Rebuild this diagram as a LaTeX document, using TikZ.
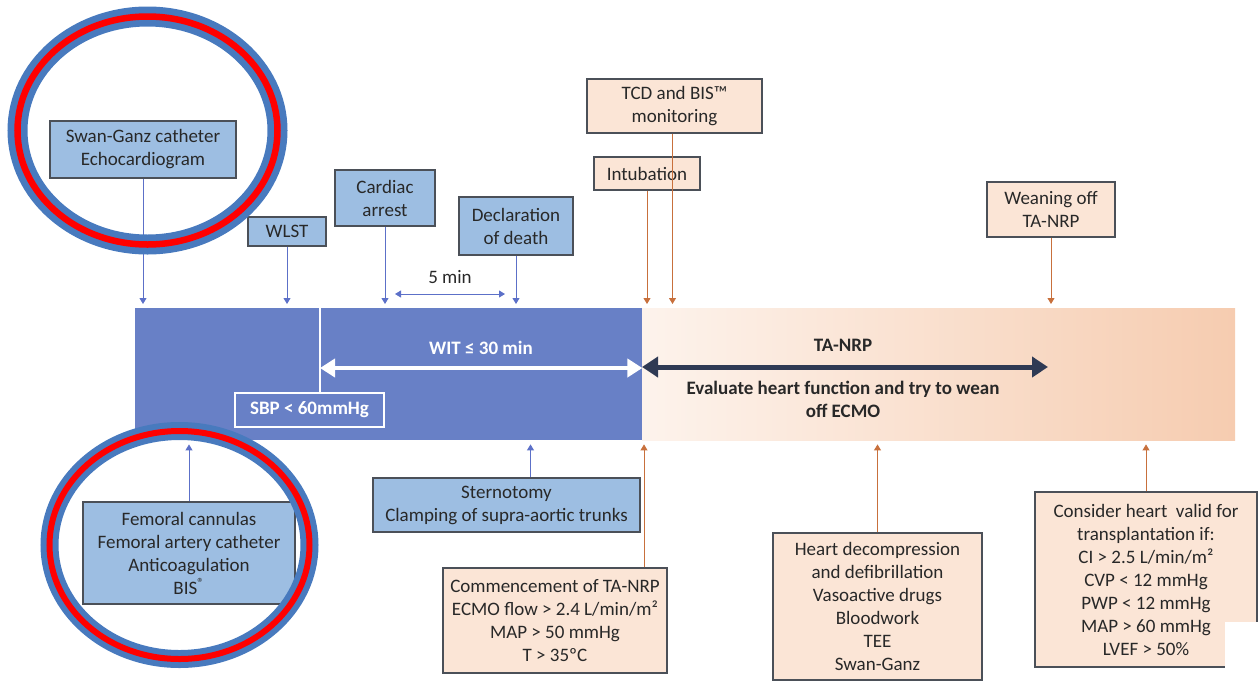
\documentclass[tikz,border=0pt]{standalone}
\usepackage{fontspec}
\setmainfont{Carlito}
\usepackage{tikz}
\usetikzlibrary{calc}
\usetikzlibrary{arrows.meta}

\definecolor{barblue}{RGB}{104,128,198}
\definecolor{boxblue}{RGB}{157,190,226}
\definecolor{boxorange}{RGB}{251,229,214}
\definecolor{boxline}{RGB}{75,80,88}
\definecolor{arrblue}{RGB}{92,112,200}
\definecolor{arrorange}{RGB}{200,112,60}
\definecolor{gradleft}{RGB}{253,243,236}
\definecolor{gradright}{RGB}{246,204,176}
\definecolor{navy}{RGB}{47,58,84}
\definecolor{ringblue}{RGB}{72,122,190}
\definecolor{txt}{RGB}{40,40,40}

\tikzset{
  bluebox/.style={draw=boxline,fill=boxblue,line width=1.2pt,align=center,inner sep=0pt,
    text=txt,font=\fontsize{19}{23}\selectfont},
  orgbox/.style={bluebox,fill=boxorange},
  bluearr/.style={arrblue,line width=0.9pt,-{Triangle[length=6pt,width=7pt]},shorten >=4pt},
  orgarr/.style={bluearr,arrorange},
  bartext/.style={font=\fontsize{19}{23}\selectfont\bfseries,align=center},
  ring/.style={line width=#1}
}

\begin{document}
\begin{tikzpicture}[x=1pt,y=-1pt]
      \useasboundingbox (0,0) rectangle (1260,683);

      % timeline bars
      \node[fill=barblue,minimum width=507pt,minimum height=132pt,inner sep=0pt,anchor=north west] (wbar) at (135,308) {};
      \node[left color=gradleft,right color=gradright,minimum width=593pt,minimum height=132pt,inner sep=0pt,anchor=north west] (nbar) at (642,308) {};

      % boxes above the bar
      \node[bluebox,minimum width=186pt,minimum height=57pt] (swan) at (143,149.5) {Swan-Ganz catheter\\Echocardiogram};
      \node[bluebox,minimum width=78pt,minimum height=29pt] (wlst) at (287,231.5) {WLST};
      \node[bluebox,minimum width=100pt,minimum height=56pt] (arrest) at (385,198) {Cardiac\\arrest};
      \node[bluebox,minimum width=114pt,minimum height=58pt] (death) at (516,226) {Declaration\\of death};
      \node[orgbox,minimum width=175pt,minimum height=54pt] (tcd) at (674.5,106) {TCD and BIS™\\monitoring};
      \node[orgbox,minimum width=106pt,minimum height=33pt] (intub) at (647,173.5) {Intubation};
      \node[orgbox,minimum width=128pt,minimum height=55pt] (wean) at (1051,209.5) {Weaning off\\TA-NRP};

      \draw[bluearr] (swan.south) -- (swan.south |- wbar.north);
      \draw[bluearr] (wlst.south) -- (wlst.south |- wbar.north);
      \draw[bluearr] (arrest.south) -- (arrest.south |- wbar.north);
      \draw[bluearr] (death.south) -- (death.south |- wbar.north);
      \draw[orgarr] ([xshift=-2pt]tcd.south) -- ([xshift=-2pt]tcd.south |- nbar.north);
      \draw[orgarr] (intub.south) -- (intub.south |- wbar.north);
      \draw[orgarr] (wean.south) -- (wean.south |- nbar.north);

      % 5 min
      \coordinate (fiveL) at (395,294);
      \coordinate (fiveR) at (505,294);
      \draw[arrblue,line width=0.9pt,{Triangle[length=6pt,width=7pt]}-{Triangle[length=6pt,width=7pt]}] (fiveL) -- (fiveR);
      \node[text=txt,font=\fontsize{19}{23}\selectfont] (five) at (450,277) {5 min};

      % inside the blue bar
      \node[draw=white,line width=1.2pt,minimum width=149pt,minimum height=34pt,inner sep=0pt,text=white,bartext] (sbp) at (309.5,410) {SBP < 60mmHg};
      \coordinate (witL) at (320,368);
      \draw[white,line width=2.5pt] (sbp.north -| witL) -- (wbar.north -| witL);
      \draw[white,line width=4.5pt,{Triangle[length=15pt,width=18pt]}-{Triangle[length=15pt,width=18pt]}] (witL) -- (witL -| wbar.east);
      \node[bartext,text=white] (wit) at (481,348) {WIT ≤ 30 min};

      % inside the TA-NRP bar
      \coordinate (nrpR) at (1048,367);
      \draw[navy,line width=5pt,{Triangle[length=16pt,width=20pt]}-{Triangle[length=16pt,width=20pt]}] (nrpR -| nbar.west) -- (nrpR);
      \node[bartext,text=txt] (nrp) at (843,345) {TA-NRP};
      \node[bartext,text=txt] (eval) at (843,399) {Evaluate heart function and try to wean\\off ECMO};

      % boxes below the bar
      \node[bluebox,minimum width=212pt,minimum height=102pt] (fem) at (189,553) {Femoral cannulas\\Femoral artery catheter\\Anticoagulation\\BIS\textsuperscript{®}};
      \node[bluebox,minimum width=267pt,minimum height=54pt] (stern) at (506.5,505) {Sternotomy\\Clamping of supra-aortic trunks};
      \node[orgbox,minimum width=224pt,minimum height=105pt] (comm) at (555,620.5) {Commencement of TA-NRP\\ECMO flow > 2.4 L/min/m²\\MAP > 50 mmHg\\T > 35ºC};
      \node[orgbox,minimum width=209pt,minimum height=147pt] (decomp) at (877.5,606.5) {Heart decompression\\and defibrillation\\Vasoactive drugs\\Bloodwork\\TEE\\Swan-Ganz};
      \node[orgbox,minimum width=222pt,minimum height=175pt] (valid) at (1146,579.5) {Consider heart\ \ valid for\\transplantation if:\\CI > 2.5 L/min/m²\\CVP < 12 mmHg\\PWP < 12 mmHg\\MAP > 60 mmHg\\LVEF > 50\%};
      \fill[white] (1225,622) rectangle (1260,683);

      \draw[bluearr] (fem.north) -- (fem.north |- wbar.south);
      \draw[bluearr] ([xshift=24pt]stern.north) -- ([xshift=24pt]stern.north |- wbar.south);
      \draw[orgarr] ([xshift=89pt]comm.north) -- ([xshift=89pt]comm.north |- wbar.south);
      \draw[orgarr] (decomp.north) -- (decomp.north |- nbar.south);
      \draw[orgarr] (valid.north) -- (valid.north |- nbar.south);

      % highlight rings
      \draw[ringblue,ring=20pt] (147.5,130.5) ellipse [x radius=130,y radius=114];
      \draw[red,ring=6.5pt] (147.5,130.5) ellipse [x radius=130,y radius=114];
      \draw[ringblue,ring=18pt] (179.5,545) ellipse [x radius=130,y radius=114];
      \draw[red,ring=6pt] (179.5,545) ellipse [x radius=130,y radius=114];
    \end{tikzpicture}
\end{document}
